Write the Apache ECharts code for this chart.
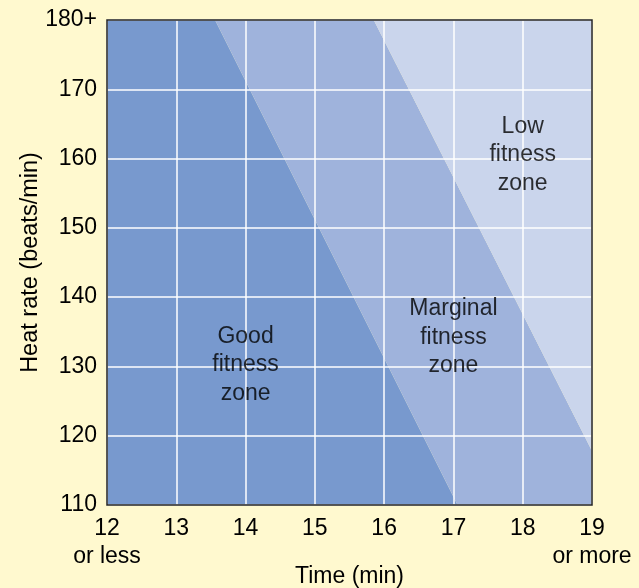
<!DOCTYPE html>
<html><head><meta charset="utf-8">
<script src="https://cdn.jsdelivr.net/npm/echarts@6/dist/echarts.min.js"></script>
<style>html,body{margin:0;padding:0;background:#FFF9CF;}#c{width:639px;height:588px;}</style>
</head><body><div id="c"></div>
<script>
// Axis ticks
var xTicks = [12, 13, 14, 15, 16, 17, 18, 19];
var yTicks = [110, 120, 130, 140, 150, 160, 170, 180];
// Zone polygons [time, heart rate]
var goodZone = [[12, 110], [12, 180], [13.56, 180], [17.06, 110]];
var marginalZone = [[13.56, 180], [15.85, 180], [19, 117.8], [19, 110], [17.06, 110]];
var lowZone = [[15.85, 180], [19, 180], [19, 117.8]];
var zoneNames = ['Good\nfitness\nzone', 'Marginal\nfitness\nzone', 'Low\nfitness\nzone'];
var zoneLabelPos = [[14.0, 130.2], [17.0, 134.2], [18.0, 160.5]];
var zoneColors = ['#7899CE', '#9FB3DC', '#CAD5EC'];

var chart = echarts.init(document.getElementById('c'));
function polySeries(pts, color) {
  return {
    type: 'custom', z: 1, silent: true,
    data: [0],
    renderItem: function (params, api) {
      return { type: 'polygon', shape: { points: pts.map(function (p) { return api.coord(p); }) },
        style: { fill: color } };
    }
  };
}
var font = 'Liberation Sans, Arial, Helvetica, sans-serif';
chart.setOption({
  backgroundColor: '#FFF9CF',
  animation: false,
  grid: { left: 107, right: 47, top: 20, bottom: 83, outerBoundsMode: 'none', containLabel: false,
    show: true, borderColor: '#222', borderWidth: 1.5, backgroundColor: 'transparent', z: 20 },
  xAxis: {
    type: 'value', min: 12, max: 19, interval: 1, z: 10,
    name: 'Time (min)', nameLocation: 'middle', nameGap: 60, nameMoveOverlap: false,
    nameTextStyle: { fontFamily: font, fontSize: 23, color: '#000' },
    axisLine: { show: false }, axisTick: { show: false },
    axisLabel: { fontFamily: font, fontSize: 23, color: '#000', margin: 10, lineHeight: 28,
      formatter: function (v) { return v === 12 ? '12\nor less' : (v === 19 ? '19\nor more' : String(v)); } },
    splitLine: { show: true, lineStyle: { color: '#FFFFFF', width: 1.5 } }
  },
  yAxis: {
    type: 'value', min: 110, max: 180, interval: 10, z: 10,
    name: 'Heat rate (beats/min)', nameLocation: 'middle', nameGap: 64, nameMoveOverlap: false,
    nameTextStyle: { fontFamily: font, fontSize: 23.5, color: '#000' },
    axisLine: { show: false }, axisTick: { show: false },
    axisLabel: { fontFamily: font, fontSize: 23, color: '#000', margin: 10,
      formatter: function (v) { return v === 180 ? '180+' : String(v); } },
    splitLine: { show: true, lineStyle: { color: '#FFFFFF', width: 1.5 } }
  },
  series: [
    polySeries(goodZone, zoneColors[0]),
    polySeries(marginalZone, zoneColors[1]),
    polySeries(lowZone, zoneColors[2]),
    {
      type: 'scatter', z: 30, symbolSize: 0, silent: true,
      data: zoneLabelPos.map(function (p, i) { return { value: p, name: zoneNames[i] }; }),
      label: { show: true, position: 'inside', formatter: function (p) { return p.name; },
        fontFamily: font, fontSize: 23, color: '#000', textBorderWidth: 0, lineHeight: 28.5, align: 'center' }
    }
  ]
});
</script></body></html>
